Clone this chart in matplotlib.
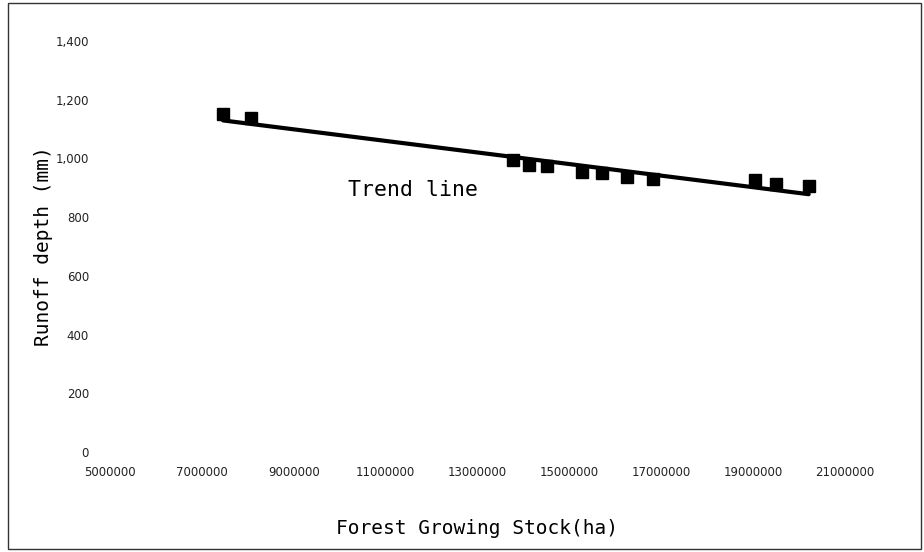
import numpy as np
import matplotlib
matplotlib.use('Agg')
import matplotlib.pyplot as plt
from matplotlib.patches import Rectangle
from matplotlib.ticker import FuncFormatter

# forest growing stock vs runoff depth
stock = [7460000, 8070000, 13780000, 14130000, 14520000, 15280000,
         15700000, 16260000, 16830000, 19050000, 19490000, 20210000]
runoff = [1152, 1138, 995, 978, 975, 954, 951, 937, 930, 927, 913, 906]

xticks = [5000000, 7000000, 9000000, 11000000, 13000000,
          15000000, 17000000, 19000000, 21000000]
yticks = [0, 200, 400, 600, 800, 1000, 1200, 1400]

fig = plt.figure(figsize=(9.24, 5.52), dpi=100)
ax = fig.add_axes([0.119, 0.181, 0.7955, 0.7447])

# trend line from a linear fit
k, b = np.polyfit(stock, runoff, 1)
xs = np.array([stock[0], stock[-1]])
ax.plot(xs, k * xs + b, color='black', lw=3, solid_capstyle='round', zorder=2)
ax.plot(stock, runoff, 's', color='black', ms=8, zorder=3)

ax.text(10190000, 893, 'Trend line', family='DejaVu Sans Mono',
        fontsize=15.5, ha='left', va='center')

ax.set_xlim(5000000, 21000000)
ax.set_ylim(0, 1400)
ax.set_xticks(xticks)
ax.set_yticks(yticks)
ax.xaxis.set_major_formatter(FuncFormatter(lambda v, p: f'{int(v)}'))
ax.yaxis.set_major_formatter(FuncFormatter(lambda v, p: f'{int(v):,}'))
for s in ax.spines.values():
    s.set_visible(False)
ax.tick_params(axis='y', length=0, pad=15, labelsize=8.5, labelcolor='#222222')
ax.tick_params(axis='x', length=0, pad=10, labelsize=8.5, labelcolor='#222222')

ax.set_xlabel('Forest Growing Stock(ha)', family='DejaVu Sans Mono',
              fontsize=14, labelpad=29)
ax.set_ylabel('Runoff depth (mm)', family='DejaVu Sans Mono',
              fontsize=14, labelpad=2)

fig.patches.append(Rectangle((8 / 924, 3 / 552), 913 / 924, 546 / 552,
                             transform=fig.transFigure, fill=False,
                             edgecolor='#333333', lw=1))

fig.savefig('out.png', dpi=100)
